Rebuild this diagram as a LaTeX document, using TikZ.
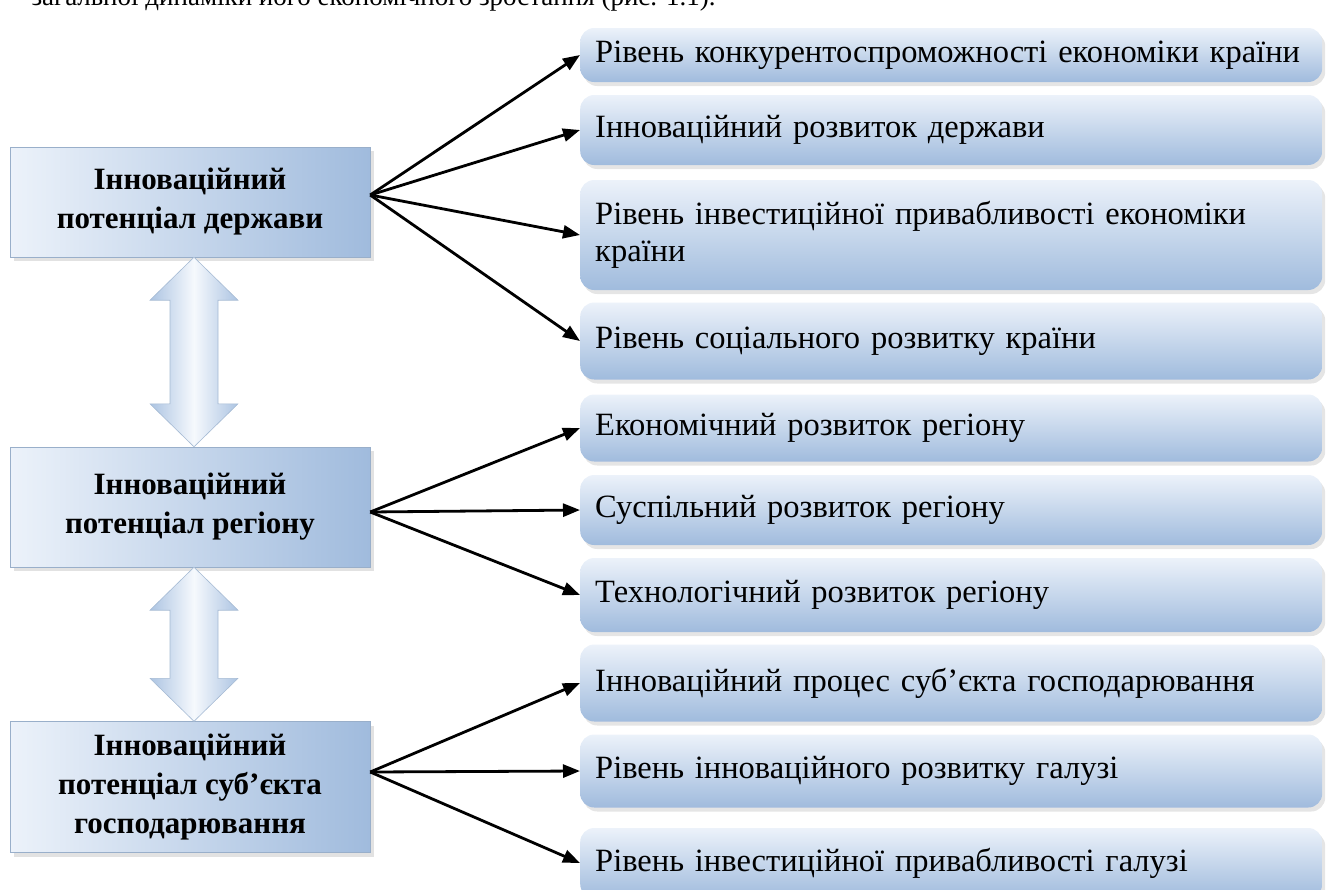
\documentclass[tikz,border=0pt]{standalone}
\usepackage{fontspec}
\setmainfont{Liberation Serif}
\usetikzlibrary{arrows.meta,shadows,calc}
\definecolor{boxLight}{RGB}{236,242,250}
\definecolor{boxDark}{RGB}{160,187,221}
\definecolor{arrLight}{RGB}{246,249,253}
\definecolor{arrDark}{RGB}{172,196,226}

\tikzset{
	potbox/.style={draw=boxDark!80!gray, left color=boxLight, right color=boxDark,
		minimum width=360pt, align=center, font=\fontsize{31}{39}\selectfont\bfseries,
		drop shadow={shadow xshift=4pt, shadow yshift=-4pt, fill=gray!45}},
	rivbox/.style={rounded corners=14pt, top color=boxLight, bottom color=boxDark,
		anchor=west, text width=712pt, inner xsep=15pt, align=left,
		font=\fontsize{32.5}{37}\selectfont,
		drop shadow={shadow xshift=3pt, shadow yshift=-4pt, fill=gray!40}},
	zv/.style={line width=2.8pt, -{Triangle[length=17pt,width=13pt]}},
	dvo/.style={draw=arrDark!85!gray, line width=0.6pt,
		left color=arrDark, right color=arrDark, middle color=arrLight}
}

\begin{document}
\begin{tikzpicture}[x=1pt, y=-1pt]
	\useasboundingbox (0,0) rectangle (1328,889);
	\node[anchor=base west, font=\fontsize{27}{30}\selectfont] (zverhu) at (28,5)
		{загальної динаміки його економічного зростання (рис. 1.1).};

	% potentials
	\node[potbox, minimum height=110pt] (potDerzh) at (190,202) {Інноваційний\\потенціал держави};
	\node[potbox, minimum height=120pt] (potReg) at (190,507) {Інноваційний\\потенціал регіону};
	\node[potbox, minimum height=131pt] (potSub) at (190,787) {Інноваційний\\потенціал суб’єкта\\господарювання};

	% levels
	\foreach \n/\y/\h/\t in {
		1/55/54/{Рівень конкурентоспроможності економіки країни},
		2/130/70/{Інноваційний розвиток держави},
		3/235/110/{Рівень інвестиційної привабливості економіки\\країни},
		4/341/77/{Рівень соціального розвитку країни},
		5/428/67/{Економічний розвиток регіону},
		6/510/70/{Суспільний розвиток регіону},
		7/595/74/{Технологічний розвиток регіону},
		8/683/77/{Інноваційний процес суб’єкта господарювання},
		9/771/73/{Рівень інноваційного розвитку галузі},
		10/863/70/{Рівень інвестиційної привабливості галузі}}
		\node[rivbox, minimum height=\h pt] (r\n) at (580,\y) {\t};

	\foreach \k in {1,...,4}
		\draw[zv] ([yshift=7pt]potDerzh.east) -- (r\k.west);
	\foreach \k in {5,6,7}
		\draw[zv] ([yshift=-5pt]potReg.east) -- (r\k.west);
	\foreach \k in {8,9,10}
		\draw[zv] ([yshift=15pt]potSub.east) -- (r\k.west);

	% double arrows
	\foreach \a/\b in {potDerzh/potReg, potReg/potSub}
		\draw[dvo] let \p1=(\a.south), \p2=(\b.north) in
			(\x1+4pt,\y1) -- (\x1+48pt,\y1-43pt) -- (\x1+28pt,\y1-43pt) -- (\x1+28pt,\y2+43pt)
			-- (\x1+48pt,\y2+43pt) -- (\x1+4pt,\y2) -- (\x1-40pt,\y2+43pt) -- (\x1-20pt,\y2+43pt)
			-- (\x1-20pt,\y1-43pt) -- (\x1-40pt,\y1-43pt) -- cycle;
\end{tikzpicture}
\end{document}
